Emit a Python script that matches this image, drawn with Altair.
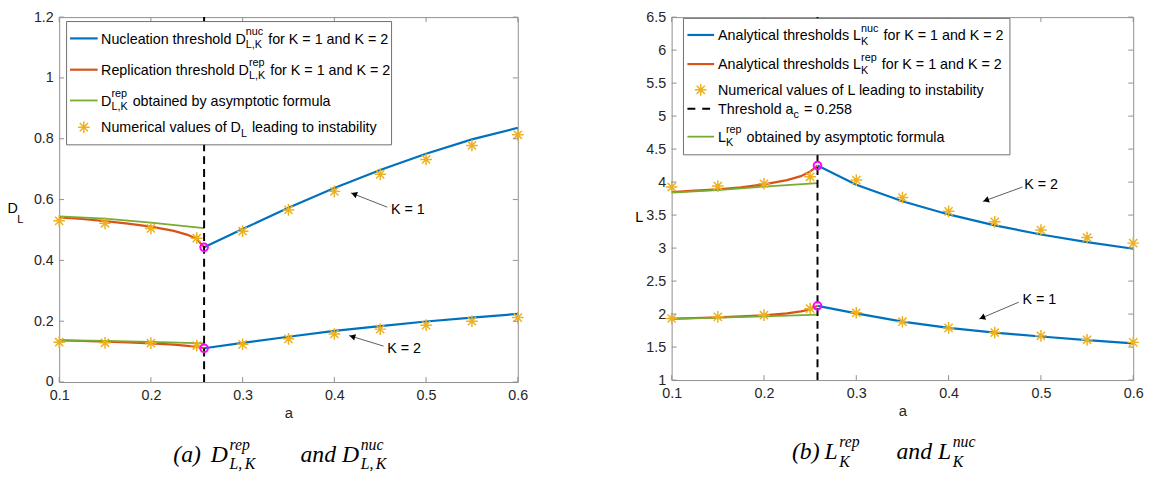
import math
import altair as alt
import pandas as pd

# ---------------- tick values ----------------
A_TICKS = [0.1, 0.2, 0.3, 0.4, 0.5, 0.6]
D_TICKS = [0, 0.2, 0.4, 0.6, 0.8, 1.0, 1.2]
L_TICKS = [1, 1.5, 2, 2.5, 3, 3.5, 4, 4.5, 5, 5.5, 6, 6.5]
A_C = 0.258

# ---------------- left panel: D_L ----------------
A_NUC = [0.258, 0.3, 0.35, 0.4, 0.45, 0.5, 0.55, 0.6]
D_NUC_K1 = [0.443, 0.503, 0.573, 0.638, 0.697, 0.751, 0.798, 0.836]
D_NUC_K2 = [0.111, 0.129, 0.149, 0.168, 0.184, 0.199, 0.212, 0.224]
A_REP = [0.1, 0.125, 0.15, 0.175, 0.2, 0.225, 0.24, 0.25, 0.258]
D_REP_K1 = [0.541, 0.536, 0.529, 0.521, 0.511, 0.497, 0.484, 0.470, 0.443]
D_REP_K2 = [0.137, 0.135, 0.133, 0.130, 0.127, 0.123, 0.119, 0.116, 0.111]
A_ASYM = [0.1, 0.15, 0.2, 0.258]
D_ASYM_K1 = [0.545, 0.537, 0.524, 0.506]
D_ASYM_K2 = [0.138, 0.135, 0.132, 0.127]
A_NUM = [0.1, 0.15, 0.2, 0.25, 0.3, 0.35, 0.4, 0.45, 0.5, 0.55, 0.6]
D_NUM_K1 = [0.530, 0.522, 0.505, 0.473, 0.496, 0.566, 0.627, 0.683, 0.732, 0.778, 0.813]
D_NUM_K2 = [0.131, 0.129, 0.128, 0.120, 0.124, 0.142, 0.158, 0.174, 0.187, 0.200, 0.212]
D_CIRCLES = [0.443, 0.111]
# label, text a, text v, arrow start a, start v, tip a, tip v
D_ARROWS = [("K = 1", 0.4617, 0.565, 0.4577, 0.575, 0.418, 0.622),
            ("K = 2", 0.4577, 0.1075, 0.4537, 0.118, 0.416, 0.153)]

# ---------------- right panel: L ----------------
L_NUC_K2 = [4.25, 3.96, 3.71, 3.51, 3.345, 3.205, 3.09, 2.99]
L_NUC_K1 = [2.125, 2.01, 1.885, 1.79, 1.72, 1.66, 1.605, 1.555]
L_REP_K2 = [3.85, 3.87, 3.89, 3.92, 3.965, 4.03, 4.09, 4.16, 4.25]
L_REP_K1 = [1.93, 1.94, 1.95, 1.965, 1.98, 2.01, 2.04, 2.07, 2.125]
L_ASYM_K2 = [3.84, 3.88, 3.93, 3.985]
L_ASYM_K1 = [1.925, 1.945, 1.965, 1.99]
L_NUM_K2 = [3.925, 3.94, 3.975, 4.08, 4.03, 3.765, 3.557, 3.398, 3.274, 3.16, 3.075]
L_NUM_K1 = [1.933, 1.958, 1.983, 2.082, 2.02, 1.884, 1.79, 1.72, 1.67, 1.61, 1.571]
L_CIRCLES = [4.25, 2.125]
L_ARROWS = [("K = 2", 0.482, 3.95, 0.480, 3.925, 0.437, 3.706),
            ("K = 1", 0.480, 2.207, 0.476, 2.18, 0.433, 1.924)]

# ---------------- styling ----------------
BLUE, ORANGE, GREEN, YELLOW, MAGENTA = "#0072BD", "#D95319", "#77AC30", "#EDB120", "#FF00FF"
FONT = "Liberation Sans"
SERIF = "Liberation Serif"
TXT = "#262626"
STAR = "M0,-1L0,1M-1,0L1,0M-0.7,-0.7L0.7,0.7M-0.7,0.7L0.7,-0.7"
FS, FSS = 14.5, 11.0        # legend main / script sizes
CFS, CFSS = 24.0, 16.0      # caption main / script sizes

ARIAL = {' ': 278, ',': 278, '.': 278, '=': 584, '-': 333}
ARIAL.update({d: 556 for d in '0123456789'})
ARIAL.update(dict(zip('ABCDEFGHIJKLMNOPQRSTUVWXYZ',
                      [667, 667, 722, 722, 667, 611, 778, 722, 278, 500, 667, 556, 833,
                       722, 778, 667, 778, 722, 667, 611, 722, 667, 944, 667, 667, 611])))
ARIAL.update(dict(zip('abcdefghijklmnopqrstuvwxyz',
                      [556, 556, 500, 556, 556, 278, 556, 556, 222, 222, 500, 222, 833,
                       556, 556, 556, 556, 333, 500, 278, 556, 500, 722, 500, 500, 500])))
TIMESI = {'(': 333, ')': 333, ' ': 250, ',': 250, 'a': 500, 'b': 500, 'c': 444, 'd': 500,
          'e': 444, 'n': 500, 'p': 500, 'r': 389, 'u': 500, 'D': 722, 'K': 667, 'L': 556}


def tw(s, size, table):
    return sum(table.get(ch, 556) for ch in s) / 1000.0 * size


def pieces(rows, x0, fs, fss, table, base_dy, sup_dy, sub_dy, gap=1.0):
    big, small = [], []
    for yc, segs in rows:
        x = x0
        yb = yc + base_dy
        for seg in segs:
            if seg[0] == 'n':
                t = seg[1]
                lead = len(t) - len(t.lstrip(' '))
                trail = len(t) - len(t.rstrip(' '))
                x += tw(' ' * lead, fs, table)
                core = t.strip(' ')
                big.append((x, yb, core))
                x += tw(core, fs, table) + tw(' ' * trail, fs, table)
            else:
                sup, sub = seg[1], seg[2]
                w = 0
                if sup:
                    small.append((x, yb - sup_dy, sup))
                    w = max(w, tw(sup, fss, table))
                if sub:
                    small.append((x, yb + sub_dy, sub))
                    w = max(w, tw(sub, fss, table))
                x += w + gap
    return big, small


def caption_pieces(spec, yb):
    """spec: list of (x, 'n', text) or (x, 's', sup, sub); sub parts split by '|'."""
    big, small = [], []
    for item in spec:
        x = item[0]
        if item[1] == 'n':
            big.append((x, yb, item[2]))
        else:
            small.append((x, yb - 12.0, item[2]))
            xx = x
            for part in item[3].split('|'):
                small.append((xx, yb + 7.5, part))
                xx += tw(part, CFSS, TIMESI) + 2.5
    return big, small


def panel(W, H, ymin, ymax, yticks, nuc, rep, asym, num, circles, arrows,
          box, leg_rows, leg_x, ytitle, caption, lift=0.0):
    XS = alt.Scale(domain=[0.1, 0.6], nice=False, zero=False)
    YS = alt.Scale(domain=[ymin, ymax], nice=False, zero=False)
    xaxis = alt.Axis(values=A_TICKS, format='~g', labelFont=FONT, labelFontSize=14.5,
                     labelColor=TXT, ticks=False, domain=False, grid=False, labelPadding=7,
                     labelFlush=False, labelOverlap=False,
                     title='a', titleFont=FONT, titleFontSize=15, titleFontWeight='normal',
                     titleColor=TXT, titlePadding=3)
    yaxis = alt.Axis(values=yticks, format='~g', labelFont=FONT, labelFontSize=14.5,
                     labelColor=TXT, ticks=False, domain=False, grid=False, labelPadding=6,
                     labelFlush=False, labelOverlap=False, title=None)

    def X(px):
        return 0.1 + px / W * 0.5

    def Y(py):
        return ymax - py / H * (ymax - ymin)

    def xe(f='a'):
        return alt.X(f + ':Q', scale=XS, axis=xaxis)

    def ye(f='v'):
        return alt.Y(f + ':Q', scale=YS, axis=yaxis)

    def line_df(series):
        rows = []
        for gi, (xs, ys) in enumerate(series):
            for a, v in zip(xs, ys):
                rows.append({'a': a, 'v': v, 'g': gi})
        return pd.DataFrame(rows)

    layers = []
    layers.append(alt.Chart(line_df(nuc)).mark_line(color=BLUE, strokeWidth=2.2).encode(
        x=xe(), y=ye(), detail='g:N', order='a:Q'))
    layers.append(alt.Chart(line_df(rep)).mark_line(color=ORANGE, strokeWidth=2.2).encode(
        x=xe(), y=ye(), detail='g:N', order='a:Q'))
    layers.append(alt.Chart(line_df(asym)).mark_line(color=GREEN, strokeWidth=1.8).encode(
        x=xe(), y=ye(), detail='g:N', order='a:Q'))
    layers.append(alt.Chart(line_df(num)).mark_point(shape=STAR, filled=False, color=YELLOW,
                                                     strokeWidth=1.5, size=140, opacity=1).encode(
        x=xe(), y=ye()))
    layers.append(alt.Chart(pd.DataFrame({'a': [A_C], 'v': [ymin], 'v2': [ymax]})).mark_rule(
        color='black', strokeWidth=2, strokeDash=[8, 5]).encode(x=xe(), y=ye(), y2='v2:Q'))
    layers.append(alt.Chart(pd.DataFrame({'a': [A_C] * len(circles), 'v': circles})).mark_point(
        shape='circle', filled=False, color=MAGENTA, strokeWidth=2, size=60, opacity=1).encode(
        x=xe(), y=ye()))

    # annotation arrows
    arr_rows, head_rows, lab_rows = [], [], []
    px_x = W / 0.5
    px_y = H / (ymax - ymin)
    for lab, ta, tv, sa, sv, pa, pv in arrows:
        arr_rows.append({'a': sa, 'v': sv, 'a2': pa, 'v2': pv})
        dx = (pa - sa) * px_x
        dy = -(pv - sv) * px_y
        ln = math.hypot(dx, dy)
        ang = math.degrees(math.atan2(dx, -dy)) % 360
        back = 3.5
        head_rows.append({'a': pa - dx / ln * back / px_x, 'v': pv + dy / ln * back / px_y, 'ang': ang})
        lab_rows.append({'a': ta, 'v': tv, 't': lab})
    layers.append(alt.Chart(pd.DataFrame(arr_rows)).mark_rule(color='#333333', strokeWidth=0.8).encode(
        x=xe(), y=ye(), x2='a2:Q', y2='v2:Q'))
    layers.append(alt.Chart(pd.DataFrame(head_rows)).mark_point(
        shape='triangle-up', filled=True, color='black', size=45, opacity=1).encode(
        x=xe(), y=ye(), angle=alt.Angle('ang:Q', scale=None)))
    layers.append(alt.Chart(pd.DataFrame(lab_rows)).mark_text(
        align='left', baseline='middle', font=FONT, fontSize=14.5, color='black').encode(
        x=xe(), y=ye(), text='t:N'))

    # inner ticks on all four sides
    tcol = '#8f8f8f'
    xt = pd.DataFrame({'a': A_TICKS})
    yt = pd.DataFrame({'v': yticks})
    layers.append(alt.Chart(xt).mark_rule(color=tcol, strokeWidth=1).encode(
        x=xe(), y=alt.value(H), y2=alt.value(H - 5)))
    layers.append(alt.Chart(xt).mark_rule(color=tcol, strokeWidth=1).encode(
        x=xe(), y=alt.value(0), y2=alt.value(5)))
    layers.append(alt.Chart(yt).mark_rule(color=tcol, strokeWidth=1).encode(
        y=ye(), x=alt.value(0), x2=alt.value(5)))
    layers.append(alt.Chart(yt).mark_rule(color=tcol, strokeWidth=1).encode(
        y=ye(), x=alt.value(W), x2=alt.value(W - 5)))
    if lift:
        # invisible spacer that lowers this panel slightly in the row
        layers.append(alt.Chart(xt.head(1)).mark_rule(strokeOpacity=0).encode(
            x=alt.value(0), x2=alt.value(1), y=alt.value(-lift)))

    # legend box
    bx0, by0, bx1, by1 = box
    layers.append(alt.Chart(pd.DataFrame({'a': [X(bx0)], 'a2': [X(bx1)], 'v': [Y(by0)], 'v2': [Y(by1)]}))
                  .mark_rect(fill='white', stroke='#5f5f5f', strokeWidth=0.9).encode(
        x=xe(), x2='a2:Q', y=ye(), y2='v2:Q'))
    lx0, lx1, sx, tx = leg_x
    samp_lines, samp_stars, samp_dash = [], [], []
    text_rows = []
    for yc, kind, col, segs in leg_rows:
        if kind == 'line':
            samp_lines.append({'a': X(lx0), 'a2': X(lx1), 'v': Y(yc), 'c': col,
                               'w': 1.8 if col == GREEN else 2.2})
        elif kind == 'star':
            samp_stars.append({'a': X(sx), 'v': Y(yc)})
        else:
            samp_dash.append({'a': X(lx0), 'a2': X(lx1 - 4), 'v': Y(yc)})
        text_rows.append((yc, segs))
    layers.append(alt.Chart(pd.DataFrame(samp_lines)).mark_rule().encode(
        x=xe(), x2='a2:Q', y=ye(), color=alt.Color('c:N', scale=None),
        strokeWidth=alt.StrokeWidth('w:Q', scale=None)))
    if samp_stars:
        layers.append(alt.Chart(pd.DataFrame(samp_stars)).mark_point(
            shape=STAR, filled=False, color=YELLOW, strokeWidth=1.5, size=140, opacity=1).encode(
            x=xe(), y=ye()))
    if samp_dash:
        layers.append(alt.Chart(pd.DataFrame(samp_dash)).mark_rule(
            color='black', strokeWidth=2, strokeDash=[8, 7]).encode(x=xe(), x2='a2:Q', y=ye()))
    big, small = pieces(text_rows, tx, FS, FSS, ARIAL, 5.2, 8.5, 4.5)
    big += ytitle[0]
    small += ytitle[1]
    layers.append(alt.Chart(pd.DataFrame([{'a': X(p[0]), 'v': Y(p[1]), 't': p[2]} for p in big]))
                  .mark_text(align='left', baseline='alphabetic', font=FONT, fontSize=FS, color='black')
                  .encode(x=xe(), y=ye(), text='t:N'))
    layers.append(alt.Chart(pd.DataFrame([{'a': X(p[0]), 'v': Y(p[1]), 't': p[2]} for p in small]))
                  .mark_text(align='left', baseline='alphabetic', font=FONT, fontSize=FSS, color='black')
                  .encode(x=xe(), y=ye(), text='t:N'))
    # caption (serif italic)
    cyb, cspec = caption
    cbig, csmall = caption_pieces(cspec, cyb)
    layers.append(alt.Chart(pd.DataFrame([{'a': X(p[0]), 'v': Y(p[1]), 't': p[2]} for p in cbig]))
                  .mark_text(align='left', baseline='alphabetic', font=SERIF, fontStyle='italic',
                             fontSize=CFS, color='black')
                  .encode(x=xe(), y=ye(), text='t:N'))
    layers.append(alt.Chart(pd.DataFrame([{'a': X(p[0]), 'v': Y(p[1]), 't': p[2]} for p in csmall]))
                  .mark_text(align='left', baseline='alphabetic', font=SERIF, fontStyle='italic',
                             fontSize=CFSS, color='black')
                  .encode(x=xe(), y=ye(), text='t:N'))

    return alt.layer(*layers).properties(width=W, height=H)


W1, H1 = 465, 370
W2, H2 = 468, 368

left = panel(
    W1, H1, 0, 1.2, D_TICKS,
    nuc=[(A_NUC, D_NUC_K1), (A_NUC, D_NUC_K2)],
    rep=[(A_REP, D_REP_K1), (A_REP, D_REP_K2)],
    asym=[(A_ASYM, D_ASYM_K1), (A_ASYM, D_ASYM_K2)],
    num=[(A_NUM, D_NUM_K1), (A_NUM, D_NUM_K2)],
    circles=D_CIRCLES, arrows=D_ARROWS,
    box=(7.5, 4.5, 337, 129.5),
    leg_rows=[
        (21.6, 'line', BLUE, [('n', 'Nucleation threshold D'), ('s', 'nuc', 'L,K'), ('n', ' for K = 1 and K = 2')]),
        (53.3, 'line', ORANGE, [('n', 'Replication threshold D'), ('s', 'rep', 'L,K'), ('n', ' for K = 1 and K = 2')]),
        (84.5, 'line', GREEN, [('n', 'D'), ('s', 'rep', 'L,K'), ('n', ' obtained by asymptotic formula')]),
        (111.6, 'star', None, [('n', 'Numerical values of D'), ('s', '', 'L'), ('n', ' leading to instability')]),
    ],
    leg_x=(11, 39, 25, 42.5),
    ytitle=([(-52.3, 199, 'D')], [(-42.5, 208.5, 'L')]),
    caption=(451, [(115.7, 'n', '(a)'), (153.7, 'n', 'D'), (172.7, 's', 'rep', 'L,|K'),
                   (244.7, 'n', 'and'), (286.7, 'n', 'D'), (305.7, 's', 'nuc', 'L,|K')]),
)

right = panel(
    W2, H2, 1, 6.5, L_TICKS,
    nuc=[(A_NUC, L_NUC_K2), (A_NUC, L_NUC_K1)],
    rep=[(A_REP, L_REP_K2), (A_REP, L_REP_K1)],
    asym=[(A_ASYM, L_ASYM_K2), (A_ASYM, L_ASYM_K1)],
    num=[(A_NUM, L_NUM_K2), (A_NUM, L_NUM_K1)],
    circles=L_CIRCLES, arrows=L_ARROWS,
    box=(12, 1.3, 343, 139.6),
    leg_rows=[
        (18.1, 'line', BLUE, [('n', 'Analytical thresholds L'), ('s', 'nuc', 'K'), ('n', ' for K = 1 and K = 2')]),
        (47.6, 'line', ORANGE, [('n', 'Analytical thresholds L'), ('s', 'rep', 'K'), ('n', ' for K = 1 and K = 2')]),
        (73.7, 'star', None, [('n', 'Numerical values of L leading to instability')]),
        (92.8, 'dash', 'black', [('n', 'Threshold a'), ('s', '', 'c'), ('n', ' = 0.258')]),
        (121.2, 'line', GREEN, [('n', 'L'), ('s', 'rep', 'K'), ('n', ' obtained by asymptotic formula')]),
    ],
    leg_x=(16, 43, 29.5, 47),
    ytitle=([(-37, 207.3, 'L')], []),
    caption=(448.3, [(122, 'n', '(b)'), (155, 'n', 'L'), (170, 's', 'rep', 'K'),
                     (228, 'n', 'and'), (270, 'n', 'L'), (285, 's', 'nuc', 'K')]),
    lift=10.0,
)

chart = alt.hconcat(left, right, spacing=107).properties(
    padding={'left': 7, 'top': 3, 'right': 5, 'bottom': 5},
    background='white',
).configure_view(stroke='#8f8f8f', strokeWidth=1)

chart.save("out.html", embed_options={"renderer": "svg", "actions": False})
